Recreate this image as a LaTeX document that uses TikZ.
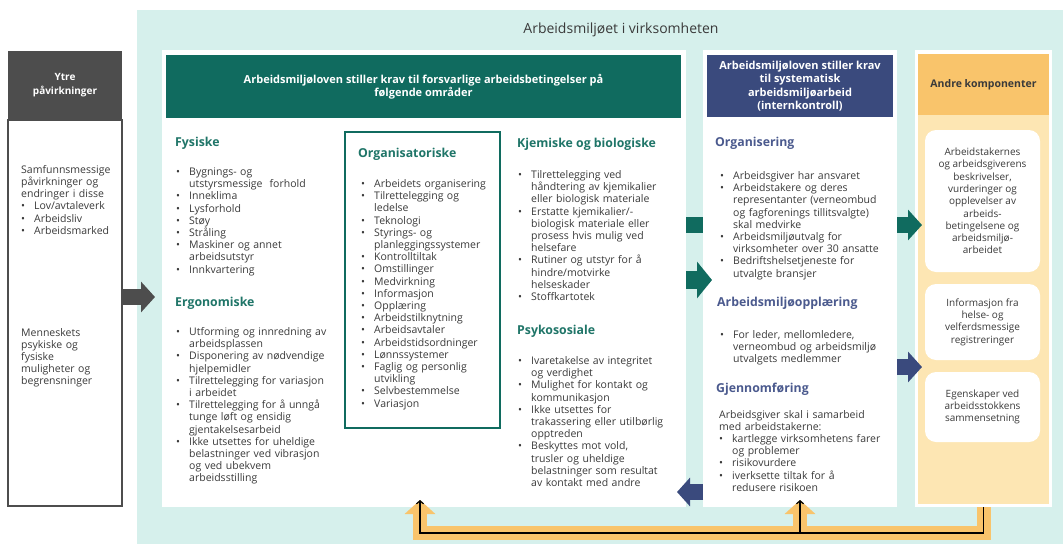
\documentclass[tikz,border=0pt]{standalone}
\usepackage{fontspec}
\setmainfont{Open Sans}
\usetikzlibrary{arrows.meta,calc}

\definecolor{bgteal}{HTML}{D6F0EC}
\definecolor{amgreen}{HTML}{106B5F}
\definecolor{amteal}{HTML}{1F7568}
\definecolor{amblue}{HTML}{3A4A7D}
\definecolor{amblueText}{HTML}{4B5A8E}
\definecolor{amorange}{HTML}{F9C46B}
\definecolor{amcream}{HTML}{FDE6B3}
\definecolor{ytregray}{HTML}{4D4D4D}
\definecolor{ink}{HTML}{3A3A3A}

\newcommand{\bodyfont}{\fontsize{10.5}{12.2}\selectfont}
\newcommand{\compfont}{\fontsize{10}{12.3}\selectfont}
\newcommand{\sectfont}{\fontsize{12.3}{14}\selectfont\bfseries}
\newcommand{\hdrfont}{\fontsize{11}{13.4}\selectfont\bfseries}
\newcommand{\titlefont}{\fontsize{14}{16}\selectfont}
\newcommand{\itm}[1]{\par\noindent\hangindent=13pt\hangafter=1\makebox[13pt][l]{\textbullet}{\let\\\newline #1}}

\begin{document}
\begin{tikzpicture}[x=1pt,y=-1pt,
    box/.style={anchor=north west,inner sep=0pt,outer sep=0pt,draw=none},
    hdr/.style={align=center,inner sep=0pt,font=\hdrfont,text=white},
    sectg/.style={anchor=base west,inner sep=0pt,font=\sectfont,text=amteal},
    sectb/.style={anchor=base west,inner sep=0pt,font=\sectfont,text=amblueText},
    txt/.style={anchor=north west,inner sep=0pt,text width=#1,align=left,font=\bodyfont,text=ink},
    txt/.default=175pt,
    blk/.style={line width=16pt,-{Triangle[length=14pt,width=30pt]}},
    fb/.style={line width=14pt,draw=amorange,-{Triangle[length=14pt,width=30pt]}},
    fbline/.style={line width=1.2pt,draw=black,-{Straight Barb[length=3pt,width=7pt]}}]

\useasboundingbox (0,0) rectangle (1063,544);
\fill[white] (0,0) rectangle (1063,544);

% Background of the company
\node[box,fill=bgteal,minimum width=926pt,minimum height=534pt] (frame) at (137,10) {};
\node[font=\titlefont,text=ink] (title) at (621,30) {Arbeidsmiljøet i virksomheten};

% Outside influences
\node[box,fill=ytregray,minimum width=114pt,minimum height=69pt] (ytrehead) at (8,51) {};
\node[box,fill=white,draw=ytregray,line width=2pt,minimum width=114pt,minimum height=386pt] (ytre) at (8,120) {};
\node[hdr,font=\fontsize{10}{14}\selectfont\bfseries] (ytretitle) at (ytrehead.center) {Ytre\\påvirkninger};
\node[txt=100pt] (ytresamf) at (21,165) {\noindent Samfunnsmessige\\påvirkninger og\\endringer i disse
  \itm{Lov/avtaleverk}\itm{Arbeidsliv}\itm{Arbeidsmarked}\par};
\node[txt=100pt] (ytremenn) at (21,328) {Menneskets\\psykiske og\\fysiske\\muligheter og\\begrensninger};

% Working conditions
\node[box,fill=white,minimum width=524pt,minimum height=457pt] (main) at (162,50) {};
\node[box,fill=amgreen,minimum width=515pt,minimum height=63pt] (mainhead) at (166,55) {};
\node[hdr] (maintitle) at (mainhead.center) {Arbeidsmiljøloven stiller krav til forsvarlige arbeidsbetingelser på\\følgende områder};

\node[sectg] (fys) at (175,146) {Fysiske};
\node[txt=168pt] (fyslist) at (176,163) {\itm{Bygnings- og\\utstyrsmessige\ \ forhold}\itm{Inneklima}\itm{Lysforhold}\itm{Støy}\itm{Stråling}
  \itm{Maskiner og annet\\arbeidsutstyr}\itm{Innkvartering}\par};
\node[sectg] (ergo) at (175,306) {Ergonomiske};
\node[txt=168pt] (ergolist) at (176,323) {\itm{Utforming og innredning av\\arbeidsplassen}\itm{Disponering av nødvendige\\hjelpemidler}
  \itm{Tilrettelegging for variasjon\\i arbeidet}\itm{Tilrettelegging for å unngå\\tunge løft og ensidig\\gjentakelsesarbeid}
  \itm{Ikke utsettes for uheldige\\belastninger ved vibrasjon\\og ved ubekvem\\arbeidsstilling}\par};

\node[box,draw=amgreen,line width=2pt,minimum width=155pt,minimum height=296pt] (org) at (345,132) {};
\node[sectg] (orghead) at (358,157) {Organisatoriske};
\node[txt=140pt] (orglist) at (361,175) {\itm{Arbeidets organisering}\itm{Tilrettelegging og\\ledelse}\itm{Teknologi}
  \itm{Styrings- og\\planleggingssystemer}\itm{Kontrolltiltak}\itm{Omstillinger}\itm{Medvirkning}\itm{Informasjon}
  \itm{Opplæring}\itm{Arbeidstilknytning}\itm{Arbeidsavtaler}\itm{Arbeidstidsordninger}\itm{Lønnssystemer}
  \itm{Faglig og personlig\\utvikling}\itm{Selvbestemmelse}\itm{Variasjon}\par};

\node[sectg] (kjem) at (517,147) {Kjemiske og biologiske};
\node[txt=168pt] (kjemlist) at (518,166) {\itm{Tilrettelegging ved\\håndtering av kjemikalier\\eller biologisk materiale}
  \itm{Erstatte kjemikalier/-\\biologisk materiale eller\\prosess hvis mulig ved\\helsefare}
  \itm{Rutiner og utstyr for å\\hindre/motvirke\\helseskader}\itm{Stoffkartotek}\par};
\node[sectg] (psyk) at (517,334) {Psykososiale};
\node[txt=168pt] (psyklist) at (518,352) {\itm{Ivaretakelse av integritet\\og verdighet}\itm{Mulighet for kontakt og\\kommunikasjon}
  \itm{Ikke utsettes for\\trakassering eller utilbørlig\\opptreden}
  \itm{Beskyttes mot vold,\\trusler og uheldige\\belastninger som resultat\\av kontakt med andre}\par};

% Systematic work (internal control)
\node[box,fill=white,minimum width=194pt,minimum height=457pt] (mid) at (703,50) {};
\node[box,fill=amblue,minimum width=186pt,minimum height=62pt] (midhead) at (707,55) {};
\node[hdr] (midtitle) at (midhead.center) {Arbeidsmiljøloven stiller krav\\til systematisk\\arbeidsmiljøarbeid\\(internkontroll)};

\node[sectb] (orgn) at (715,146) {Organisering};
\node[txt] (orgnlist) at (720,167) {\itm{Arbeidsgiver har ansvaret}\itm{Arbeidstakere og deres\\representanter (verneombud\\og fagforenings tillitsvalgte)\\skal medvirke}
  \itm{Arbeidsmiljøutvalg for\\virksomheter over 30 ansatte}\itm{Bedriftshelsetjeneste for\\utvalgte bransjer}\par};
\node[sectb] (oppl) at (717,306) {Arbeidsmiljøopplæring};
\node[txt] (oppllist) at (720,326) {\itm{For leder, mellomledere,\\verneombud og arbeidsmiljø\\utvalgets medlemmer}\par};
\node[sectb] (gjen) at (716,392) {Gjennomføring};
\node[txt] (gjenlist) at (719,410) {\noindent Arbeidsgiver skal i samarbeid\\med arbeidstakerne:
  \itm{kartlegge virksomhetens farer\\og problemer}\itm{risikovurdere}\itm{iverksette tiltak for å\\redusere risikoen}\par};

% Other components
\node[box,fill=white,minimum width=137pt,minimum height=457pt] (rest) at (915,50) {};
\node[box,fill=amorange,minimum width=131pt,minimum height=61pt] (resthead) at (918,54) {};
\node[box,fill=amcream,minimum width=131pt,minimum height=389pt] (restbody) at (918,115) {};
\node[font=\fontsize{10.5}{13}\selectfont\bfseries,text=ink] (resttitle) at (resthead.center) {Andre komponenter};
\node[box,fill=white,rounded corners=11pt,minimum width=115pt,minimum height=142pt,align=center,font=\compfont,text=ink] (comp1) at (925,130)
  {Arbeidstakernes\\og arbeidsgiverens\\beskrivelser,\\vurderinger og\\opplevelser av\\arbeids-\\betingelsene og\\arbeidsmiljø-\\arbeidet};
\node[box,fill=white,rounded corners=11pt,minimum width=115pt,minimum height=76pt,align=center,font=\compfont,text=ink] (comp2) at (925,284)
  {Informasjon fra\\helse- og\\velferdsmessige\\registreringer};
\node[box,fill=white,rounded corners=11pt,minimum width=115pt,minimum height=70pt,align=center,font=\compfont,text=ink] (comp3) at (925,372)
  {Egenskaper ved\\arbeidsstokkens\\sammensetning};

% Arrows between the parts
\draw[blk,draw=ytregray,shorten >=7pt] (ytre.east |- 0,297) -- (main.west |- 0,297);
\draw[line width=16pt,draw=amgreen] (main.east |- 0,225) -- (mid.west |- 0,225);
\draw[line width=18pt,draw=amgreen,-{Triangle[length=15pt,width=36pt]},shorten >=-9pt] (main.east |- 0,280) -- (mid.west |- 0,280);
\draw[blk,draw=amblue,-{Triangle[length=13pt,width=28pt]},shorten >=-9pt] (mid.west |- 0,492) -- (main.east |- 0,492);
\draw[blk,draw=amgreen,shorten >=-7pt] (mid.east |- 0,225) -- (rest.west |- 0,225);
\draw[blk,draw=amblue,shorten >=-7pt] (mid.east |- 0,367) -- (rest.west |- 0,367);

% Feedback loop
\coordinate (fbL) at (420,500);
\coordinate (fbM) at (800,500);
\coordinate (fbC) at (420,533);
\draw[fb] (rest.south) |- (fbC) -- (fbL);
\draw[fb] (fbM |- fbC) -- (fbM);
\draw[fbline] (rest.south) |- (fbC) -- (fbL);
\draw[fbline] (fbM |- fbC) -- (fbM);

\end{tikzpicture}
\end{document}
